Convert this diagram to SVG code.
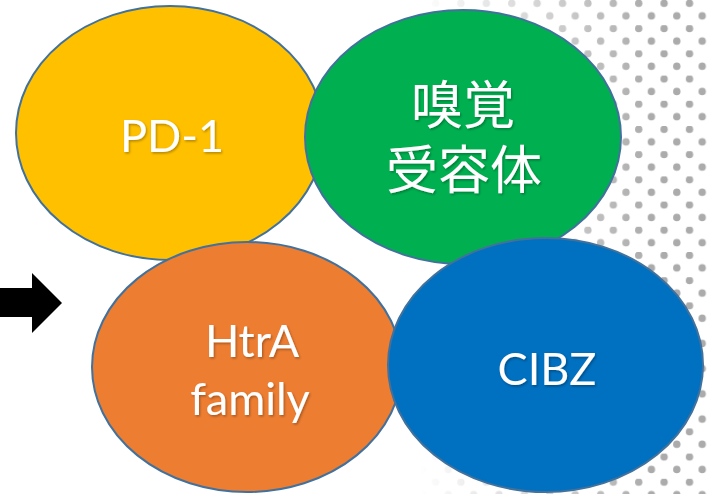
<svg xmlns="http://www.w3.org/2000/svg" width="707" height="494" viewBox="0 0 707 494">
  <defs>
    <style>
      .bubble { stroke: #41719C; stroke-width: 2; }
      .label { fill: #FFFFFF; font-family: "Lato", "Liberation Sans", sans-serif; font-size: 45px; text-anchor: middle; filter: url(#softShadow); }
      .label-cjk { fill: #FFFFFF; font-family: "Noto Sans CJK JP", "Noto Sans CJK SC", sans-serif; font-size: 52px; text-anchor: middle; filter: url(#softShadow); }
    </style>
    <filter id="softShadow" x="-10%" y="-20%" width="130%" height="150%">
      <feDropShadow dx="1.2" dy="1.5" stdDeviation="1" flood-color="#000000" flood-opacity="0.3"/>
    </filter>
    <!-- staggered halftone dots -->
    <pattern id="dots" patternUnits="userSpaceOnUse" x="0" y="0" width="25.4" height="25.2">
      <circle cx="3.7" cy="3.3" r="3.7" fill="#ABABAB"/>
      <circle cx="16.4" cy="15.9" r="3.7" fill="#ABABAB"/>
    </pattern>
    <linearGradient id="fadeLeft" x1="0" y1="0" x2="1" y2="0">
      <stop offset="0" stop-color="#FFFFFF" stop-opacity="0"/>
      <stop offset="1" stop-color="#FFFFFF" stop-opacity="1"/>
    </linearGradient>
    <mask id="dotFade" maskUnits="userSpaceOnUse" x="0" y="0" width="707" height="494">
      <rect x="420" y="0" width="230" height="494" fill="url(#fadeLeft)"/>
      <rect x="650" y="0" width="57" height="494" fill="#FFFFFF"/>
    </mask>
  </defs>

  <rect x="0" y="0" width="707" height="494" fill="#FFFFFF"/>

  <!-- dotted backdrop on the right -->
  <g id="backdrop">
    <rect x="420" y="0" width="287" height="494" fill="url(#dots)" mask="url(#dotFade)"/>
  </g>

  <!-- block arrow pointing at the cluster -->
  <g id="connectors">
    <polygon points="0,288 32,288 32,273 62,303 32,333 32,317 0,317" fill="#000000"/>
  </g>

  <g id="node-pd1">
    <ellipse class="bubble" cx="170" cy="133" rx="154" ry="127" fill="#FFC000"/>
    <text class="label" x="172" y="152">PD-1</text>
  </g>

  <g id="node-olfactory">
    <ellipse class="bubble" cx="463" cy="137" rx="158" ry="127" fill="#00B050"/>
    <text class="label-cjk"><tspan x="463" y="124">嗅覚</tspan><tspan x="464" y="189">受容体</tspan></text>
  </g>

  <g id="node-htra">
    <ellipse class="bubble" cx="247" cy="367" rx="155" ry="125" fill="#ED7D31"/>
    <text class="label"><tspan x="252" y="357">HtrA</tspan><tspan x="250" y="415">family</tspan></text>
  </g>

  <g id="node-cibz">
    <ellipse class="bubble" cx="545.5" cy="365" rx="157.5" ry="127" fill="#0070C0"/>
    <text class="label" x="547" y="385">CIBZ</text>
  </g>
</svg>
